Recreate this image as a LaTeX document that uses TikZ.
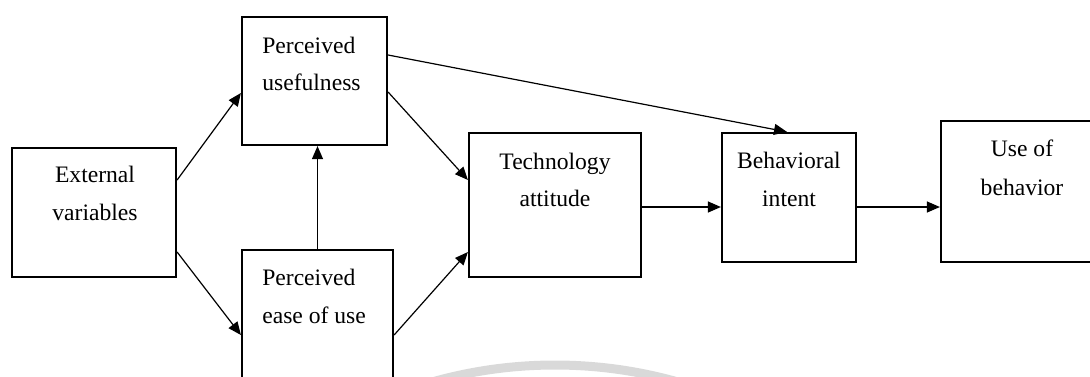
\documentclass[tikz,border=0pt]{standalone}
\usepackage{fontspec}
\setmainfont{Liberation Serif}
\usetikzlibrary{arrows.meta,calc}

\begin{document}
\begin{tikzpicture}[
  x=0.5pt, y=-0.5pt,
  box/.style={draw, line width=1.1pt, rectangle, inner sep=0pt},
  lbl/.style={inner sep=0pt, font=\fontsize{11.8}{14}\selectfont},
  link/.style={line width=0.6pt, -{Triangle[length=6.5pt,width=5.5pt]}}
]
\useasboundingbox (0,0) rectangle (1090,376);

% faint arc in the background
\begin{scope}
  \clip (0,0) rectangle (1090,376);
  \draw[line width=4.5pt, color=black!15] (555,815) circle[radius=450];
\end{scope}

% boxes
\node[box, minimum width=82pt, minimum height=64.5pt] (ext) at (94,212.5) {};
\node[box, minimum width=72.5pt, minimum height=64pt] (pu) at (314.5,81) {};
\node[box, minimum width=75.5pt, minimum height=65pt] (pe) at (317.5,315) {};
\node[box, minimum width=86pt, minimum height=72pt] (ta) at (555,205) {};
\node[box, minimum width=67pt, minimum height=64.5pt] (bi) at (789,197.5) {};
\node[box, minimum width=82pt, minimum height=70.5pt] (ub) at (1023,191.5) {};

% labels
\node[lbl, anchor=base] (ext1) at ($(ext.north)+(1,36)$) {External};
\node[lbl, anchor=base] (ext2) at ($(ext.north)+(1,74)$) {variables};
\node[lbl, anchor=base west] (pu1) at ($(pu.north west)+(21,38)$) {Perceived};
\node[lbl, anchor=base west] (pu2) at ($(pu.north west)+(21,75)$) {usefulness};
\node[lbl, anchor=base west] (pe1) at ($(pe.north west)+(21,37)$) {Perceived};
\node[lbl, anchor=base west] (pe2) at ($(pe.north west)+(21,75)$) {ease of use};
\node[lbl, anchor=base] (ta1) at ($(ta.north)+(0,38)$) {Technology};
\node[lbl, anchor=base] (ta2) at ($(ta.north)+(0,75)$) {attitude};
\node[lbl, anchor=base] (bi1) at ($(bi.north)+(0,37)$) {Behavioral};
\node[lbl, anchor=base] (bi2) at ($(bi.north)+(0,75)$) {intent};
\node[lbl, anchor=base] (ub1) at ($(ub.north)+(-1,37)$) {Use of};
\node[lbl, anchor=base] (ub2) at ($(ub.north)+(-1,76)$) {behavior};

% connectors
\draw[link] ($(ext.east)+(0,-32.5)$) -- ($(pu.west)+(0,12)$);
\draw[link] ($(ext.east)+(0,39.5)$) -- ($(pe.west)+(0,20)$);
\draw[link] (pe.north) -- (pe.north |- pu.south);
\draw[link] ($(pu.east)+(0,11)$) -- ($(ta.west)+(0,-25)$);
\draw[link] ($(pe.east)+(0,20)$) -- ($(ta.west)+(0,47)$);
\draw[link] ($(pu.east)+(0,-26)$) -- ($(bi.north)+(-2,0)$);
\draw[link] ($(ta.east)+(0,2)$) -- ($(bi.west)+(0,9.5)$);
\draw[link] ($(bi.east)+(0,9.5)$) -- ($(ub.west)+(0,15.5)$);
\end{tikzpicture}
\end{document}
